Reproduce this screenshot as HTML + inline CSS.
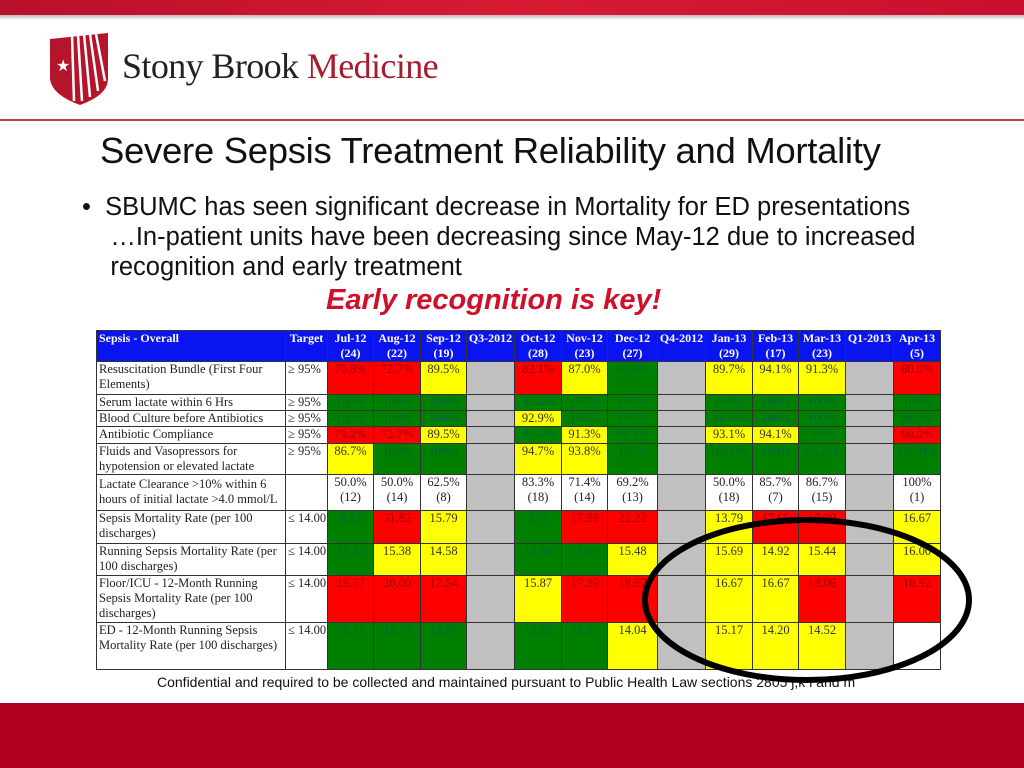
<!DOCTYPE html>
<html><head><meta charset="utf-8"><style>
body{margin:0;width:1024px;height:768px;position:relative;overflow:hidden;background:#fff;font-family:"Liberation Sans",sans-serif}
.abs{position:absolute}
table{position:absolute;left:96px;top:330px;width:845px;border-collapse:collapse;table-layout:fixed;font-family:"Liberation Serif",serif;font-size:12.5px;color:#222}
td{border:1px solid #333;padding:0 2px;vertical-align:top;line-height:15px;overflow:hidden;white-space:nowrap}
td.c{text-align:center;padding:0}
.h td{background:#0a14f0;color:#fff;font-weight:bold;text-align:center;line-height:15px;font-size:12px;padding:0}
.R{background:#ff0000;color:#900}.G{background:#008000;color:#063}.Y{background:#ffff00;color:#333}.S{background:#c0c0c0}.W{background:#fff}
td.l{white-space:normal}
</style></head><body>
<div class="abs" style="left:0;top:0;width:1024px;height:15px;background:linear-gradient(90deg,#b8102a,#d81a35 50%,#c8102e)"></div>
<div class="abs" style="left:0;top:15px;width:1024px;height:5px;background:linear-gradient(#bbb,#fff)"></div>
<svg class="abs" style="left:50px;top:33px" width="60" height="72" viewBox="0 0 60 72">
<path d="M0 6 L58 0 L58 46 Q58 62 30 72 Q2 62 0 46 Z" fill="#b5152b"/>
<g stroke="#fff" stroke-width="2.5"><line x1="22" y1="2" x2="24" y2="68"/><line x1="28" y1="2" x2="32" y2="68"/><line x1="34" y1="1" x2="40" y2="64"/><line x1="40" y1="1" x2="48" y2="58"/><line x1="46" y1="1" x2="55" y2="48"/></g>
<text x="6" y="38" fill="#fff" font-size="16">★</text></svg>
<div class="abs" style="left:122px;top:45px;font-family:'Liberation Serif',serif;font-size:36px;letter-spacing:-0.6px;white-space:nowrap"><span style="color:#222">Stony Brook</span> <span style="color:#a81c30">Medicine</span></div>
<div class="abs" style="left:0;top:119px;width:1024px;height:2px;background:#c04050"></div>
<div class="abs" style="left:100px;top:130px;font-size:36.5px;color:#111;white-space:nowrap;letter-spacing:-0.3px">Severe Sepsis Treatment Reliability and Mortality</div>
<div class="abs" style="left:82px;top:192px;font-size:25.5px;color:#111;line-height:30px;white-space:nowrap">•&nbsp;&nbsp;SBUMC has seen significant decrease in Mortality for ED presentations<br>&nbsp;&nbsp;&nbsp;&nbsp;…In-patient units have been decreasing since May-12 due to increased<br>&nbsp;&nbsp;&nbsp;&nbsp;recognition and early treatment</div>
<div class="abs" style="left:326px;top:284px;font-size:29px;font-weight:bold;font-style:italic;color:#d0102a;white-space:nowrap">Early recognition is key!</div>
<table>
<colgroup><col style="width:189px"><col style="width:42px"><col style="width:46px"><col style="width:47px"><col style="width:46px"><col style="width:48px"><col style="width:47px"><col style="width:46px"><col style="width:50px"><col style="width:48px"><col style="width:47px"><col style="width:46px"><col style="width:47px"><col style="width:48px"><col style="width:47px"></colgroup>
<tr class="h" style="height:31px"><td style="text-align:left;padding-left:2px">Sepsis - Overall</td><td>Target</td><td>Jul-12<br>(24)</td><td>Aug-12<br>(22)</td><td>Sep-12<br>(19)</td><td>Q3-2012</td><td>Oct-12<br>(28)</td><td>Nov-12<br>(23)</td><td>Dec-12<br>(27)</td><td>Q4-2012</td><td>Jan-13<br>(29)</td><td>Feb-13<br>(17)</td><td>Mar-13<br>(23)</td><td>Q1-2013</td><td>Apr-13<br>(5)</td></tr>
<tr style="height:33px"><td class="l">Resuscitation Bundle (First Four Elements)</td><td>≥ 95%</td><td class="c R">70.8%</td><td class="c R">72.7%</td><td class="c Y">89.5%</td><td class="S"></td><td class="c R">82.1%</td><td class="c Y">87.0%</td><td class="c G">96.3%</td><td class="S"></td><td class="c Y">89.7%</td><td class="c Y">94.1%</td><td class="c Y">91.3%</td><td class="S"></td><td class="c R">60.0%</td></tr>
<tr style="height:16px"><td>Serum lactate within 6 Hrs</td><td>≥ 95%</td><td class="c G">100%</td><td class="c G">100%</td><td class="c G">100%</td><td class="S"></td><td class="c G">96.4%</td><td class="c G">100%</td><td class="c G">100%</td><td class="S"></td><td class="c G">100%</td><td class="c G">100%</td><td class="c G">100%</td><td class="S"></td><td class="c G">100%</td></tr>
<tr style="height:15px"><td>Blood Culture before Antibiotics</td><td>≥ 95%</td><td class="c G">100%</td><td class="c G">100%</td><td class="c G">100%</td><td class="S"></td><td class="c Y">92.9%</td><td class="c G">100%</td><td class="c G">100%</td><td class="S"></td><td class="c G">96.6%</td><td class="c G">100%</td><td class="c G">100%</td><td class="S"></td><td class="c G">96.6%</td></tr>
<tr style="height:17px"><td>Antibiotic Compliance</td><td>≥ 95%</td><td class="c R">79.2%</td><td class="c R">72.7%</td><td class="c Y">89.5%</td><td class="S"></td><td class="c G">96.4%</td><td class="c Y">91.3%</td><td class="c G">96.3%</td><td class="S"></td><td class="c Y">93.1%</td><td class="c Y">94.1%</td><td class="c G">96%</td><td class="S"></td><td class="c R">60.0%</td></tr>
<tr style="height:30px"><td class="l">Fluids and Vasopressors for hypotension or elevated lactate</td><td>≥ 95%</td><td class="c Y">86.7%</td><td class="c G">100%</td><td class="c G">100%</td><td class="S"></td><td class="c Y">94.7%</td><td class="c Y">93.8%</td><td class="c G">100%</td><td class="S"></td><td class="c G">100.0%</td><td class="c G">100%</td><td class="c G">95.2%</td><td class="S"></td><td class="c G">100.0%</td></tr>
<tr style="height:36px"><td class="l" style="padding-top:2px">Lactate Clearance &gt;10% within 6 hours of initial lactate &gt;4.0 mmol/L</td><td></td><td class="c W">50.0%<br>(12)</td><td class="c W">50.0%<br>(14)</td><td class="c W">62.5%<br>(8)</td><td class="S"></td><td class="c W">83.3%<br>(18)</td><td class="c W">71.4%<br>(14)</td><td class="c W">69.2%<br>(13)</td><td class="S"></td><td class="c W">50.0%<br>(18)</td><td class="c W">85.7%<br>(7)</td><td class="c W">86.7%<br>(15)</td><td class="S"></td><td class="c W">100%<br>(1)</td></tr>
<tr style="height:33px"><td class="l">Sepsis Mortality Rate (per 100 discharges)</td><td>≤ 14.00</td><td class="c G">8.33</td><td class="c R">31.82</td><td class="c Y">15.79</td><td class="S"></td><td class="c G">3.57</td><td class="c R">17.39</td><td class="c R">22.22</td><td class="S"></td><td class="c Y">13.79</td><td class="c R">17.65</td><td class="c R">17.39</td><td class="S"></td><td class="c Y">16.67</td></tr>
<tr style="height:32px"><td class="l">Running Sepsis Mortality Rate (per 100 discharges)</td><td>≤ 14.00</td><td class="c G">13.22</td><td class="c Y">15.38</td><td class="c Y">14.58</td><td class="S"></td><td class="c G">12.99</td><td class="c G">13.60</td><td class="c Y">15.48</td><td class="S"></td><td class="c Y">15.69</td><td class="c Y">14.92</td><td class="c Y">15.44</td><td class="S"></td><td class="c Y">16.00</td></tr>
<tr style="height:47px"><td class="l">Floor/ICU - 12-Month Running Sepsis Mortality Rate (per 100 discharges)</td><td>≤ 14.00</td><td class="c R">19.57</td><td class="c R">20.00</td><td class="c R">17.54</td><td class="S"></td><td class="c Y">15.87</td><td class="c R">17.39</td><td class="c R">18.67</td><td class="S"></td><td class="c Y">16.67</td><td class="c Y">16.67</td><td class="c R">18.06</td><td class="S"></td><td class="c R">18.92</td></tr>
<tr style="height:47px"><td class="l">ED - 12-Month Running Sepsis Mortality Rate (per 100 discharges)</td><td>≤ 14.00</td><td class="c G">10.71</td><td class="c G">13.37</td><td class="c G">13.07</td><td class="S"></td><td class="c G">12.23</td><td class="c G">12.36</td><td class="c Y">14.04</td><td class="S"></td><td class="c Y">15.17</td><td class="c Y">14.20</td><td class="c Y">14.52</td><td class="S"></td><td class="c W"></td></tr>
</table>
<div class="abs" style="left:157px;top:674px;font-size:14px;color:#111;white-space:nowrap">Confidential and required to be collected and maintained pursuant to Public Health Law sections 2805 j,k l and m</div>
<div class="abs" style="left:0;top:703px;width:1024px;height:65px;background:#b00020"></div>
<svg class="abs" style="left:0;top:0" width="1024" height="768"><ellipse cx="807" cy="600" rx="162" ry="80" fill="none" stroke="#000" stroke-width="6"/></svg>
</body></html>
